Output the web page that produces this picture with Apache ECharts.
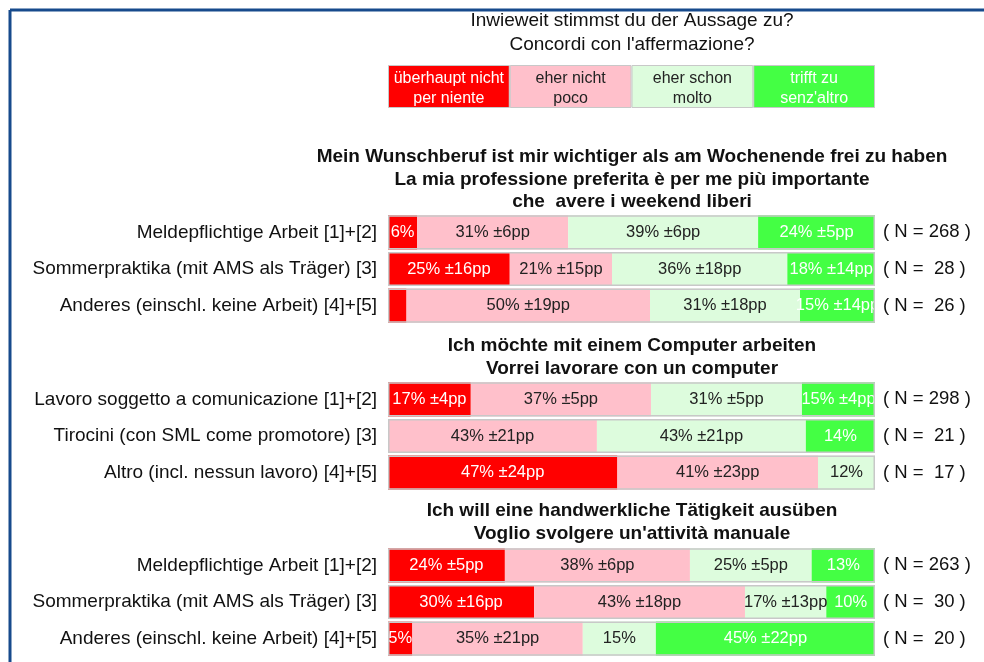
<!DOCTYPE html>
<html><head><meta charset="utf-8">
<script src="https://cdn.jsdelivr.net/npm/echarts@6/dist/echarts.min.js"></script>
<style>html,body{margin:0;padding:0;background:#fff}#c{width:984px;height:662px}</style>
</head><body><div id="c"></div>
<script>
// ---- data ----
const legendNames = ["überhaupt nicht\nper niente", "eher nicht\npoco", "eher schon\nmolto", "trifft zu\nsenz'altro"];
const legendShares = [25, 25, 25, 25];

const title1 = "Mein Wunschberuf ist mir wichtiger als am Wochenende frei zu haben\nLa mia professione preferita è per me più importante\nche  avere i weekend liberi";
const categories1 = ["Meldepflichtige Arbeit [1]+[2]", "Sommerpraktika (mit AMS als Träger) [3]", "Anderes (einschl. keine Arbeit) [4]+[5]"];
const n1 = [268, 28, 26];
const g1Red = [6, 25, 3.8];
const g1Pink = [31, 21, 50];
const g1LGreen = [39, 36, 30.8];
const g1Green = [24, 18, 15.4];
const g1ErrRed = [null, 16, null];
const g1ErrPink = [6, 15, 19];
const g1ErrLGreen = [6, 18, 18];
const g1ErrGreen = [5, 14, 14];

const title2 = "Ich möchte mit einem Computer arbeiten\nVorrei lavorare con un computer";
const categories2 = ["Lavoro soggetto a comunicazione [1]+[2]", "Tirocini (con SML come promotore) [3]", "Altro (incl. nessun lavoro) [4]+[5]"];
const n2 = [298, 21, 17];
const g2Red = [17, 0, 47.1];
const g2Pink = [37, 42.9, 41.2];
const g2LGreen = [31, 42.9, 11.8];
const g2Green = [15, 14.3, 0];
const g2ErrRed = [4, null, 24];
const g2ErrPink = [5, 21, 23];
const g2ErrLGreen = [5, 21, null];
const g2ErrGreen = [4, null, null];

const title3 = "Ich will eine handwerkliche Tätigkeit ausüben\nVoglio svolgere un'attività manuale";
const categories3 = ["Meldepflichtige Arbeit [1]+[2]", "Sommerpraktika (mit AMS als Träger) [3]", "Anderes (einschl. keine Arbeit) [4]+[5]"];
const n3 = [263, 30, 20];
const g3Red = [24, 30, 5];
const g3Pink = [38, 43.3, 35];
const g3LGreen = [25, 16.7, 15];
const g3Green = [13, 10, 45];
const g3ErrRed = [5, 16, null];
const g3ErrPink = [6, 18, 21];
const g3ErrLGreen = [5, 13, null];
const g3ErrGreen = [null, null, 22];

// ---- styling / layout ----
const FONT = "'Liberation Sans', Arial, sans-serif";
const COLORS = ['#ff0000', '#ffc0cb', '#ddfcdd', '#44ff44'];
const TEXTC = ['#ffffff', '#222222', '#222222', '#ffffff'];
const BORDER = '#c8c8c8';
const GRID_LEFT = 388, GRID_RIGHT = 984 - 875, GRID_H = 110;
const groups = [
  {title: title1, cats: categories1, n: n1, vals: [g1Red, g1Pink, g1LGreen, g1Green], errs: [g1ErrRed, g1ErrPink, g1ErrLGreen, g1ErrGreen], top: 214, titleTop: 146},
  {title: title2, cats: categories2, n: n2, vals: [g2Red, g2Pink, g2LGreen, g2Green], errs: [g2ErrRed, g2ErrPink, g2ErrLGreen, g2ErrGreen], top: 381, titleTop: 335},
  {title: title3, cats: categories3, n: n3, vals: [g3Red, g3Pink, g3LGreen, g3Green], errs: [g3ErrRed, g3ErrPink, g3ErrLGreen, g3ErrGreen], top: 547, titleTop: 500}
];

const grids = [], xAxes = [], yAxes = [], series = [];
const titles = [{
  text: "Inwieweit stimmst du der Aussage zu?\nConcordi con l'affermazione?",
  left: 632, top: 9, textAlign: 'center', padding: 0,
  textStyle: {fontFamily: FONT, fontSize: 19, fontWeight: 'normal', color: '#111', lineHeight: 24}
}];

function fmtN(n) { return '( N = ' + (n < 100 ? ' ' : '') + n + ' )'; }

groups.forEach((g, gi) => {
  grids.push({left: GRID_LEFT, right: GRID_RIGHT, top: g.top, height: GRID_H});
  xAxes.push({gridIndex: gi, type: 'value', min: 0, max: 100, show: false});
  yAxes.push({gridIndex: gi, type: 'category', data: g.cats, inverse: true,
    axisLine: {show: false}, axisTick: {show: false},
    axisLabel: {fontFamily: FONT, fontSize: 19, color: '#111', margin: 11}});
  yAxes.push({gridIndex: gi, type: 'category', data: g.n.map(fmtN), inverse: true, position: 'right',
    axisLine: {show: false}, axisTick: {show: false},
    axisLabel: {fontFamily: FONT, fontSize: 18.5, color: '#111', margin: 8}});
  titles.push({text: g.title, left: 632, top: g.titleTop, textAlign: 'center', padding: 0,
    textStyle: {fontFamily: FONT, fontSize: 19, fontWeight: 'bold', color: '#111', lineHeight: 22.5}});
  g.vals.forEach((arr, si) => {
    series.push({
      type: 'bar', stack: 'g' + gi, xAxisIndex: gi, yAxisIndex: gi * 2, barWidth: '93%',
      itemStyle: {color: COLORS[si]},
      data: arr.map((v, i) => ({value: v, err: g.errs[si][i]})),
      label: {show: true, position: 'inside', fontFamily: FONT, fontSize: 16.5, color: TEXTC[si],
        formatter: p => {
          const v = p.value; if (v < 4.5) return '';
          const e = p.data.err;
          return Math.round(v) + '%' + (e != null ? ' \u00b1' + e + 'pp' : '');
        }},
      silent: true, animation: false
    });
  });
  series.push({
    type: 'bar', xAxisIndex: gi, yAxisIndex: gi * 2, barWidth: '93%', barGap: '-100%', z: 5,
    data: g.cats.map(() => 100),
    itemStyle: {color: 'rgba(0,0,0,0)', borderColor: BORDER, borderWidth: 1.5},
    silent: true, animation: false
  });
});

// legend as a 4th grid
const LG = groups.length;
grids.push({left: GRID_LEFT, right: GRID_RIGHT, top: 65, height: 43});
xAxes.push({gridIndex: LG, type: 'value', min: 0, max: 100, show: false});
yAxes.push({gridIndex: LG, type: 'category', data: [''], show: false});
legendNames.forEach((nm, si) => {
  series.push({type: 'bar', stack: 'lg', xAxisIndex: LG, yAxisIndex: yAxes.length - 1, barWidth: '100%',
    data: [legendShares[si]],
    itemStyle: {color: COLORS[si], borderColor: BORDER, borderWidth: 1},
    label: {show: true, position: 'inside', formatter: nm, fontFamily: FONT, fontSize: 16, lineHeight: 20, color: TEXTC[si], offset: [0, 2]},
    silent: true, animation: false});
});

const chart = echarts.init(document.getElementById('c'), null, {renderer: 'canvas'});
chart.setOption({
  animation: false,
  backgroundColor: '#fff',
  title: titles,
  grid: grids, xAxis: xAxes, yAxis: yAxes, series: series,
  graphic: [
    {type: 'line', shape: {x1: 10, y1: 10, x2: 984, y2: 10}, style: {stroke: '#174a8c', lineWidth: 3}, z: 100},
    {type: 'line', shape: {x1: 10, y1: 10, x2: 10, y2: 662}, style: {stroke: '#174a8c', lineWidth: 3}, z: 100}
  ]
});
</script></body></html>
